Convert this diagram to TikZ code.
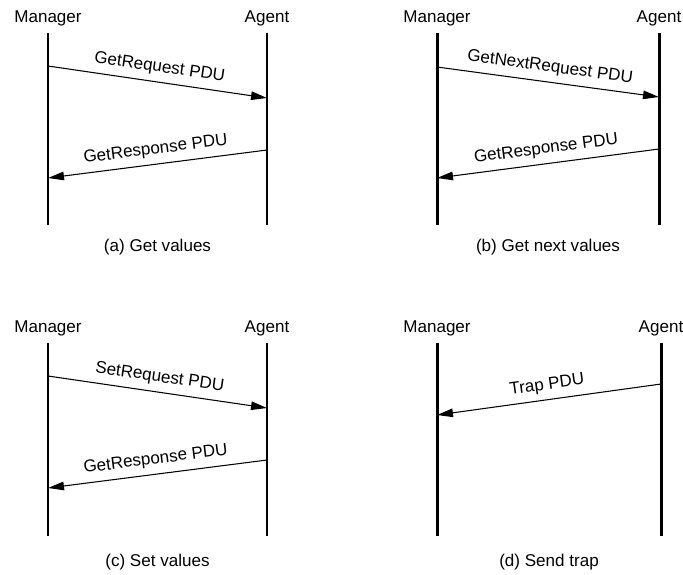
\documentclass[tikz,border=0pt]{standalone}
\usepackage{fontspec}
\setmainfont{Liberation Sans}
\usetikzlibrary{
    arrows.meta,
    positioning,
    calc
}
\tikzset{
    rolehead/.style={
        font=\fontsize{9.7}{11.6}\selectfont,
        inner sep=0pt,
        anchor=base
    }
}
\tikzset{
    lifeline/.style={
        draw=black,
        line width=1.7pt
    }
}
\tikzset{
    pdu/.style={
        draw=black,
        line width=0.6pt,
        -{Triangle[length=3.2mm,width=1.7mm]}
    }
}
\tikzset{
    pdulabel/.style={
        font=\fontsize{9.7}{11.6}\selectfont,
        sloped,
        above=0.9mm,
        inner sep=1pt
    }
}
\tikzset{
    caption/.style={
        font=\fontsize{9.7}{11.6}\selectfont,
        inner sep=0pt,
        anchor=base
    }
}

\begin{document}
\begin{tikzpicture}

\useasboundingbox (0,0) rectangle (136.6mm,-114.8mm);

% ------------------------------------------------------------
% Participants
% ------------------------------------------------------------

\node[rolehead] (mgrA) at (9.6mm,-4.4mm) {Manager};
\node[rolehead] (agtA) at (53.4mm,-4.4mm) {Agent};
\node[rolehead] (mgrB) at (87.4mm,-4.4mm) {Manager};
\node[rolehead] (agtB) at (131.8mm,-4.4mm) {Agent};
\node[rolehead] (mgrC) at (9.6mm,-66.4mm) {Manager};
\node[rolehead] (agtC) at (53.4mm,-66.4mm) {Agent};
\node[rolehead] (mgrD) at (87.4mm,-66.4mm) {Manager};
\node[rolehead] (agtD) at (132.2mm,-66.4mm) {Agent};

\foreach \p in {mgrA,agtA,mgrB,agtB} {
    \draw[lifeline] (\p |- 0,-6.6mm) -- (\p |- 0,-45mm);
}
\foreach \p in {mgrC,agtC,mgrD,agtD} {
    \draw[lifeline] (\p |- 0,-68.6mm) -- (\p |- 0,-107.2mm);
}

% ------------------------------------------------------------
% (a) Get values
% ------------------------------------------------------------

\draw[pdu] (mgrA |- 0,-13.2mm) -- node[pdulabel] {GetRequest PDU} (agtA |- 0,-19.6mm);
\draw[pdu] (agtA |- 0,-30mm) -- node[pdulabel] {GetResponse PDU} (mgrA |- 0,-35.6mm);
\node[caption] (capA) at (31.5mm,-50.2mm) {(a) Get values};

% ------------------------------------------------------------
% (b) Get next values
% ------------------------------------------------------------

\draw[pdu] (mgrB |- 0,-13.4mm) -- node[pdulabel] {GetNextRequest PDU} (agtB |- 0,-19.4mm);
\draw[pdu] (agtB |- 0,-29.8mm) -- node[pdulabel] {GetResponse PDU} (mgrB |- 0,-35.6mm);
\node[caption] (capB) at (109.6mm,-50.2mm) {(b) Get next values};

% ------------------------------------------------------------
% (c) Set values
% ------------------------------------------------------------

\draw[pdu] (mgrC |- 0,-75.2mm) -- node[pdulabel] {SetRequest PDU} (agtC |- 0,-81.6mm);
\draw[pdu] (agtC |- 0,-92mm) -- node[pdulabel] {GetResponse PDU} (mgrC |- 0,-97.6mm);
\node[caption] (capC) at (31.5mm,-113.2mm) {(c) Set values};

% ------------------------------------------------------------
% (d) Send trap
% ------------------------------------------------------------

\draw[pdu] (agtD |- 0,-76.8mm) -- node[pdulabel] {Trap PDU} (mgrD |- 0,-83mm);
\node[caption] (capD) at (109.8mm,-113.2mm) {(d) Send trap};

\end{tikzpicture}
\end{document}
